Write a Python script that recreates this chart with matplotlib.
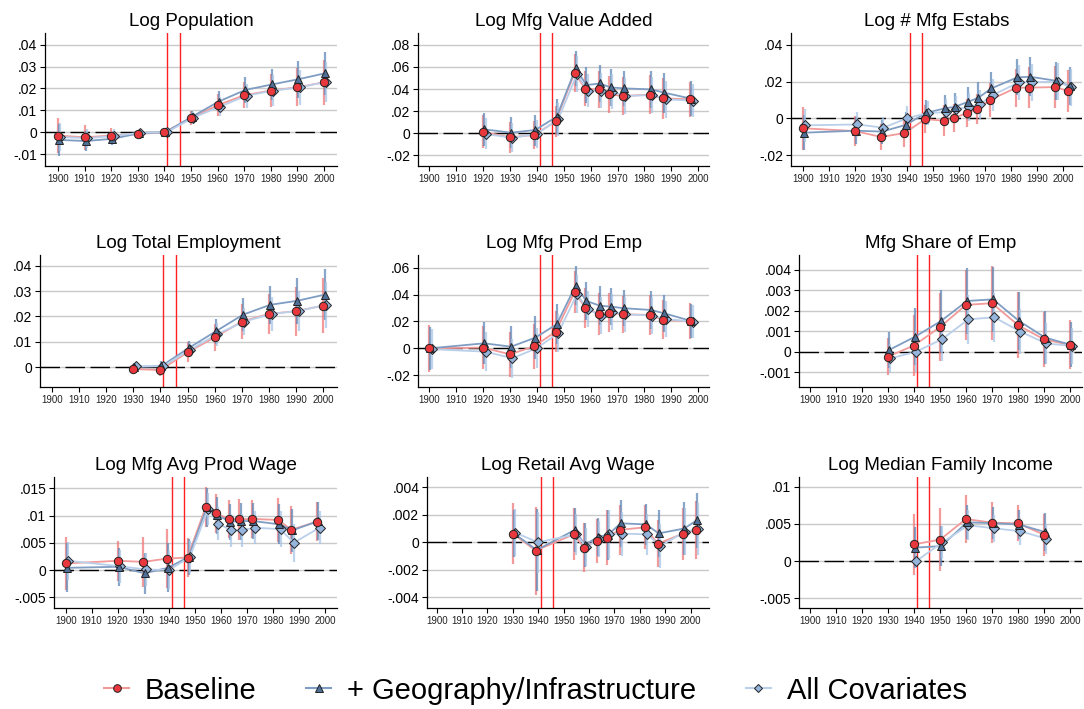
import matplotlib
matplotlib.use("Agg")
import matplotlib.pyplot as plt
from matplotlib.lines import Line2D
import numpy as np

plt.rcParams['font.family'] = ['Liberation Sans', 'DejaVu Sans']

# ---- data ----
war_lines = [1941, 1945.7]
decades = list(range(1900, 2001, 10))
series_names = ['Baseline', '+ Geography/Infrastructure', 'All Covariates']

pop_years = [1900, 1910, 1920, 1930, 1940, 1950, 1960, 1970, 1980, 1990, 2000]
pop_base = [-0.0015, -0.0023, -0.0015, -0.0008, 0, 0.0065, 0.0123, 0.0169, 0.019, 0.0205, 0.0228]
pop_base_ci = [0.0078, 0.0057, 0.0035, 0.0012, 0, 0.003, 0.005, 0.006, 0.0075, 0.0087, 0.0103]
pop_geo = [-0.0035, -0.004, -0.003, -0.0005, 0, 0.0071, 0.014, 0.0193, 0.0218, 0.0242, 0.0269]
pop_geo_ci = [0.0072, 0.0045, 0.003, 0.0012, 0, 0.0028, 0.0048, 0.0058, 0.0072, 0.0085, 0.0097]
pop_all = [-0.0022, -0.0027, -0.0017, -0.0002, 0, 0.0067, 0.0117, 0.0167, 0.019, 0.0205, 0.023]
pop_all_ci = [0.0065, 0.0043, 0.003, 0.001, 0, 0.0027, 0.0045, 0.0055, 0.007, 0.008, 0.009]

va_years = [1920, 1930, 1939, 1947, 1954, 1958, 1963, 1967, 1972, 1982, 1987, 1997]
va_base = [0.0015, -0.0036, -0.0015, 0.0108, 0.0547, 0.0403, 0.0397, 0.0352, 0.0337, 0.0349, 0.0316, 0.0307]
va_base_ci = [0.015, 0.014, 0.013, 0.014, 0.017, 0.016, 0.017, 0.017, 0.017, 0.0175, 0.0185, 0.016]
va_geo = [0.0036, 0.0006, 0.003, 0.015, 0.0586, 0.0436, 0.045, 0.0415, 0.0406, 0.0397, 0.0367, 0.0313]
va_geo_ci = [0.015, 0.014, 0.014, 0.016, 0.016, 0.016, 0.017, 0.017, 0.016, 0.017, 0.018, 0.016]
va_all = [-0.0006, -0.004, -0.0006, 0.0126, 0.0535, 0.0385, 0.0385, 0.0376, 0.0337, 0.0346, 0.0307, 0.0295]
va_all_ci = [0.014, 0.013, 0.013, 0.015, 0.016, 0.015, 0.016, 0.016, 0.016, 0.016, 0.017, 0.015]

est_years = [1900, 1920, 1930, 1939, 1947, 1954, 1958, 1963, 1967, 1972, 1982, 1987, 1997, 2002]
est_base = [-0.0054, -0.0069, -0.0101, -0.008, -0.0004, -0.0013, 0.0002, 0.0029, 0.0051, 0.0101, 0.0167, 0.0167, 0.017, 0.0148]
est_base_ci = [0.0117, 0.008, 0.007, 0.0075, 0.0075, 0.0083, 0.0076, 0.0077, 0.0082, 0.0092, 0.0104, 0.011, 0.0115, 0.0113]
est_geo = [-0.0078, -0.0067, -0.0072, -0.0036, 0.003, 0.0054, 0.0063, 0.009, 0.0112, 0.0163, 0.0223, 0.0226, 0.0204, 0.0176]
est_geo_ci = [0.0095, 0.0075, 0.0065, 0.007, 0.0068, 0.0075, 0.0075, 0.008, 0.0085, 0.009, 0.0098, 0.0105, 0.0105, 0.0105]
est_all = [-0.0038, -0.0033, -0.0051, 0, 0.003, 0.0033, 0.0049, 0.0063, 0.0076, 0.0127, 0.0195, 0.0197, 0.0199, 0.0168]
est_all_ci = [0.009, 0.007, 0.006, 0.0065, 0.0065, 0.007, 0.007, 0.0075, 0.008, 0.0085, 0.0095, 0.01, 0.01, 0.01]

emp_years = [1930, 1940, 1950, 1960, 1970, 1980, 1990, 2000]
emp_base = [-0.0008, -0.0012, 0.0058, 0.0117, 0.018, 0.021, 0.0221, 0.0243]
emp_base_ci = [0.002, 0.0025, 0.004, 0.0055, 0.0068, 0.008, 0.0097, 0.0108]
emp_geo = [0, 0.0004, 0.0075, 0.0141, 0.0207, 0.0246, 0.0262, 0.0286]
emp_geo_ci = [0.0015, 0.002, 0.0027, 0.005, 0.0065, 0.0076, 0.0092, 0.0102]
emp_all = [0.0003, 0.0003, 0.0068, 0.013, 0.018, 0.021, 0.0222, 0.0246]
emp_all_ci = [0.0015, 0.0018, 0.0028, 0.0045, 0.0055, 0.0068, 0.008, 0.009]

prod_years = [1900, 1920, 1930, 1939, 1947, 1954, 1958, 1963, 1967, 1972, 1982, 1987, 1997]
prod_base = [0, 0.0005, -0.0045, 0.0015, 0.0124, 0.0417, 0.0303, 0.0255, 0.0265, 0.0253, 0.0248, 0.0211, 0.0201]
prod_base_ci = [0.0176, 0.016, 0.0165, 0.0166, 0.0154, 0.0157, 0.0149, 0.0156, 0.0145, 0.0139, 0.0146, 0.0145, 0.0133]
prod_geo = [0, 0.0037, 0.0012, 0.0079, 0.0179, 0.0466, 0.0352, 0.0317, 0.031, 0.0298, 0.0285, 0.026, 0.0203]
prod_geo_ci = [0.016, 0.0155, 0.0155, 0.016, 0.015, 0.0145, 0.014, 0.0145, 0.014, 0.0135, 0.014, 0.014, 0.013]
prod_all = [-0.0007, -0.0025, -0.0074, 0, 0.0112, 0.0402, 0.029, 0.0243, 0.0268, 0.0253, 0.0243, 0.0218, 0.0198]
prod_all_ci = [0.015, 0.0145, 0.0145, 0.015, 0.014, 0.014, 0.0135, 0.014, 0.0135, 0.013, 0.0135, 0.0135, 0.0125]

share_years = [1930, 1940, 1950, 1960, 1970, 1980, 1990, 2000]
share_base = [-0.00024, 0.0003, 0.0012, 0.00229, 0.00237, 0.0013, 0.0006, 0.00033]
share_base_ci = [0.0009, 0.0015, 0.00165, 0.0017, 0.0018, 0.0016, 0.00135, 0.0012]
share_geo = [0.00008, 0.00073, 0.0015, 0.00248, 0.00256, 0.0015, 0.00069, 0.00033]
share_geo_ci = [0.0009, 0.0014, 0.0015, 0.0016, 0.0016, 0.0014, 0.0013, 0.0011]
share_all = [-0.00033, 0, 0.00062, 0.00158, 0.00168, 0.00098, 0.0004, 0.00028]
share_all_ci = [0.0007, 0.001, 0.0011, 0.0012, 0.0012, 0.0011, 0.001, 0.0009]

wage_years = [1900, 1920, 1930, 1939, 1947, 1954, 1958, 1963, 1967, 1972, 1982, 1987, 1997]
wage_base = [0.0012, 0.0017, 0.0015, 0.0021, 0.0023, 0.0116, 0.0104, 0.0094, 0.0093, 0.0094, 0.0092, 0.0074, 0.0089]
wage_base_ci = [0.0049, 0.0037, 0.0046, 0.0054, 0.0035, 0.0037, 0.0036, 0.0035, 0.0037, 0.0035, 0.004, 0.0044, 0.0036]
wage_geo = [0.0004, 0.0006, -0.0006, 0.0004, 0.0024, 0.0115, 0.0101, 0.0089, 0.009, 0.009, 0.0084, 0.0073, 0.009]
wage_geo_ci = [0.0045, 0.0035, 0.0038, 0.0045, 0.0033, 0.0035, 0.0034, 0.0033, 0.0034, 0.0033, 0.0037, 0.004, 0.0035]
wage_all = [0.0017, 0.0007, 0.0001, 0, 0.0024, 0.0112, 0.0085, 0.0073, 0.0073, 0.0078, 0.0075, 0.005, 0.0078]
wage_all_ci = [0.0035, 0.003, 0.003, 0.0035, 0.003, 0.003, 0.003, 0.003, 0.003, 0.003, 0.0033, 0.0035, 0.003]

ret_years = [1930, 1939, 1954, 1958, 1963, 1967, 1972, 1982, 1987, 1997, 2002]
ret_base = [0.00063, -0.0006, 0.00058, -0.00039, 0.00012, 0.00034, 0.0009, 0.00109, -0.0001, 0.00063, 0.00087]
ret_base_ci = [0.0022, 0.0032, 0.0019, 0.0018, 0.0016, 0.002, 0.0018, 0.0016, 0.0017, 0.0019, 0.0021]
ret_geo = [0.00065, -0.00056, 0.0009, -0.0002, 0.0004, 0.00053, 0.00138, 0.0013, 0.00065, 0.001, 0.0016]
ret_geo_ci = [0.0017, 0.003, 0.0016, 0.0016, 0.0014, 0.0018, 0.0017, 0.0015, 0.0017, 0.0019, 0.002]
ret_all = [0.0007, 0, 0.00058, -0.00036, 0.00024, 0.00058, 0.00063, 0.00058, -0.00027, 0.00078, 0.00095]
ret_all_ci = [0.0017, 0.0022, 0.0015, 0.0014, 0.0013, 0.0018, 0.0016, 0.0015, 0.0016, 0.0017, 0.0019]

inc_years = [1940, 1950, 1960, 1970, 1980, 1990]
inc_base = [0.00224, 0.00287, 0.00565, 0.00516, 0.00507, 0.00354]
inc_base_ci = [0.0041, 0.0042, 0.0032, 0.0028, 0.0024, 0.0028]
inc_geo = [0.0018, 0.002, 0.0052, 0.0051, 0.0049, 0.0039]
inc_geo_ci = [0.0028, 0.0027, 0.0023, 0.0021, 0.002, 0.0025]
inc_all = [0, 0.0025, 0.0048, 0.0044, 0.004, 0.003]
inc_all_ci = [0.001, 0.0022, 0.002, 0.0018, 0.0018, 0.002]

# title, years, series, y ticks
panels = [
    ('Log Population', pop_years, [(pop_base, pop_base_ci), (pop_geo, pop_geo_ci), (pop_all, pop_all_ci)], np.arange(-0.01, 0.041, 0.01)),
    ('Log Mfg Value Added', va_years, [(va_base, va_base_ci), (va_geo, va_geo_ci), (va_all, va_all_ci)], np.arange(-0.02, 0.081, 0.02)),
    ('Log # Mfg Estabs', est_years, [(est_base, est_base_ci), (est_geo, est_geo_ci), (est_all, est_all_ci)], np.arange(-0.02, 0.041, 0.02)),
    ('Log Total Employment', emp_years, [(emp_base, emp_base_ci), (emp_geo, emp_geo_ci), (emp_all, emp_all_ci)], np.arange(0, 0.041, 0.01)),
    ('Log Mfg Prod Emp', prod_years, [(prod_base, prod_base_ci), (prod_geo, prod_geo_ci), (prod_all, prod_all_ci)], np.arange(-0.02, 0.061, 0.02)),
    ('Mfg Share of Emp', share_years, [(share_base, share_base_ci), (share_geo, share_geo_ci), (share_all, share_all_ci)], np.arange(-0.001, 0.00401, 0.001)),
    ('Log Mfg Avg Prod Wage', wage_years, [(wage_base, wage_base_ci), (wage_geo, wage_geo_ci), (wage_all, wage_all_ci)], np.arange(-0.005, 0.0151, 0.005)),
    ('Log Retail Avg Wage', ret_years, [(ret_base, ret_base_ci), (ret_geo, ret_geo_ci), (ret_all, ret_all_ci)], np.arange(-0.004, 0.00401, 0.002)),
    ('Log Median Family Income', inc_years, [(inc_base, inc_base_ci), (inc_geo, inc_geo_ci), (inc_all, inc_all_ci)], np.arange(-0.005, 0.0101, 0.005)),
]

# ---- layout (pixels: left, top, right, bottom) and axis limits ----
W, H = 1084, 709
boxes = [(45, 33, 337, 166), (418, 33, 709, 166), (791, 33, 1082, 166),
         (40, 255, 337, 387), (418, 255, 709, 387), (799, 255, 1082, 387),
         (54, 477, 337, 608), (427, 477, 709, 608), (799, 477, 1082, 608)]
xlims = [(1895.1, 2004.9), (1895.8, 2004.0), (1895.4, 2007.2),
         (1895.7, 2005.0), (1895.8, 2004.0), (1895.8, 2004.6),
         (1895.5, 2004.6), (1896.2, 2007.2), (1895.8, 2004.6)]
ylims = [(-0.0154, 0.0453), (-0.0295, 0.0906), (-0.0259, 0.0464),
         (-0.0079, 0.0443), (-0.0288, 0.0694), (-0.00173, 0.00473),
         (-0.00698, 0.0171), (-0.00478, 0.00475), (-0.00632, 0.0113)]

styles = [
    dict(marker='o', mfc='#e8383d', line='#f29a9a', ci='#f07878', ms=6.0, dx=0.0, z=5),
    dict(marker='^', mfc='#4e6f98', line='#7f9dc3', ci='#5f88b8', ms=6.0, dx=0.4, z=4),
    dict(marker='D', mfc='#95b5dc', line='#bad0ea', ci='#a9c5e6', ms=5.0, dx=0.9, z=3),
]


def stata_fmt(v):
    if abs(v) < 1e-12:
        return '0'
    return f'{v:g}'.replace('0.', '.')


fig = plt.figure(figsize=(W / 100, H / 100), dpi=100)

for (title, years, series, yticks), box, xl, yl in zip(panels, boxes, xlims, ylims):
    l, t, r, b = box
    ax = fig.add_axes([l / W, 1 - b / H, (r - l) / W, (b - t) / H])
    yrs = np.array(years, dtype=float)

    for yv in yticks:
        ax.axhline(yv, color='#c9c9c9', lw=1.0, zorder=0)
    ax.axhline(0, color='black', lw=1.0, ls=(0, (14, 4)), zorder=1)
    for wx in war_lines:
        ax.axvline(wx, color='#ff2020', lw=1.0, zorder=2)

    for (vals, ci), st in zip(series, styles):
        xs = yrs + st['dx']
        vals = np.array(vals)
        ci = np.array(ci)
        ax.vlines(xs, vals - ci, vals + ci, color=st['ci'], lw=1.6, alpha=0.75, zorder=2)
        ax.plot(xs, vals, color=st['line'], lw=1.3, zorder=3)
    for (vals, ci), st in zip(series, styles):
        xs = yrs + st['dx']
        ax.plot(xs, vals, ls='none', marker=st['marker'], ms=st['ms'], mfc=st['mfc'],
                mec='#222222', mew=0.7, zorder=st['z'] + 3)

    ax.set_xlim(*xl)
    ax.set_ylim(*yl)
    ax.set_xticks(decades)
    ax.set_xticklabels([str(d) for d in decades], fontsize=7, color='#222222')
    ax.set_yticks(yticks)
    ax.set_yticklabels([stata_fmt(v) for v in yticks], fontsize=10)
    ax.tick_params(axis='both', direction='out', length=3.5, width=0.8, pad=2)
    for side in ('top', 'right'):
        ax.spines[side].set_visible(False)
    for side in ('left', 'bottom'):
        ax.spines[side].set_linewidth(0.9)
    ax.set_title(title, fontsize=13.5, pad=5)

handles = [Line2D([], [], color=st['line'], lw=1.5, marker=st['marker'], ms=st['ms'] - 0.5,
                  mfc=st['mfc'], mec='#222222', mew=0.7) for st in styles]
fig.legend(handles, series_names, loc='center', bbox_to_anchor=(0.494, 0.026), ncol=3,
           frameon=False, fontsize=21, handlelength=0.85, handletextpad=0.55,
           columnspacing=1.7)

fig.savefig('out.png', dpi=100)
